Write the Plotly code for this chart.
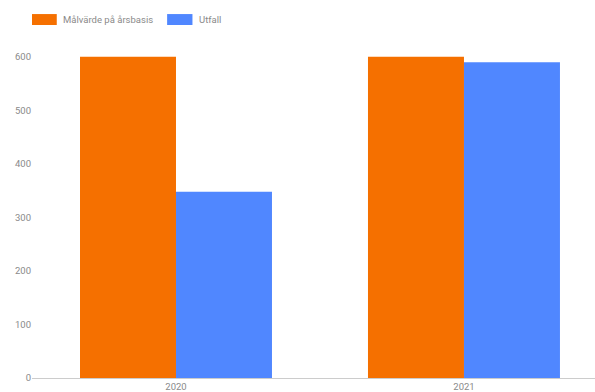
import plotly.graph_objects as go

years = ["2020", "2021"]
target = [600, 600]
actual = [348, 590]
series_names = ["Målvärde på årsbasis", "Utfall"]
colors = ["#F57000", "#5087FF"]
y_ticks = [0, 100, 200, 300, 400, 500, 600]

fig = go.Figure()
for name, vals, col in zip(series_names, [target, actual], colors):
    fig.add_bar(x=years, y=vals, name=name, marker_color=col,
                marker_line_width=0, showlegend=False)

# custom legend: wide swatches with labels
legend_x = [(0.0, 0.044, 0.052), (0.24, 0.285, 0.293)]
for (x0, x1, tx), name, col in zip(legend_x, series_names, colors):
    fig.add_shape(type="rect", xref="paper", yref="paper", x0=x0, x1=x1,
                  y0=1.0, y1=1.031, fillcolor=col, line_width=0)
    fig.add_annotation(text=name, xref="paper", yref="paper", x=tx, y=1.0155,
                       xanchor="left", yanchor="middle", showarrow=False,
                       font=dict(size=9.5, color="#8a8a8a"))

fig.update_layout(
    width=595, height=392,
    margin=dict(l=32, r=0, t=25, b=12),
    paper_bgcolor="white", plot_bgcolor="white",
    barmode="group", bargap=1/3, bargroupgap=0,
    font=dict(family="Roboto, Arial, sans-serif", size=9.5, color="#8a8a8a"),
    xaxis=dict(range=[-0.5, 1.455], showline=True, linecolor="#ccc",
               linewidth=1, ticks="", showgrid=False,
               tickfont=dict(size=9.5, color="#8a8a8a")),
    yaxis=dict(range=[0, 659.5], tickvals=y_ticks, showgrid=False,
               zeroline=False, ticks="",
               tickfont=dict(size=9.5, color="#8a8a8a")),
)

fig.write_html("out.html")
